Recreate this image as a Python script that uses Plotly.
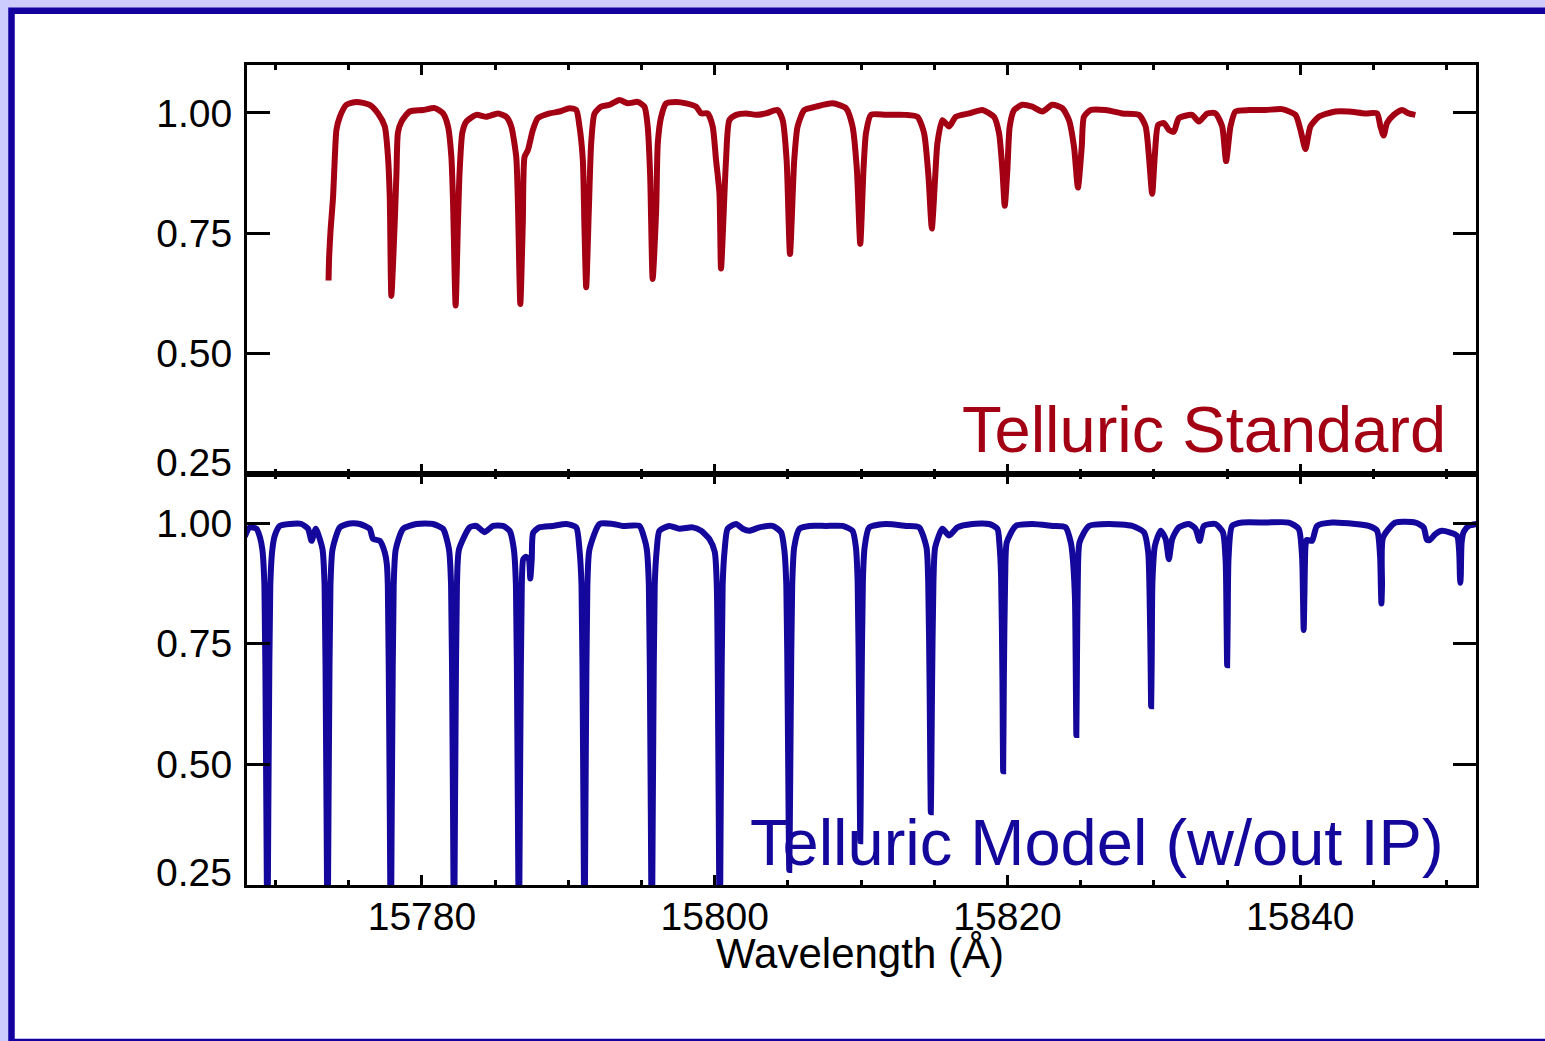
import plotly.graph_objects as go

# ---------------------------------------------------------------------------
# Spectra: wavelength (Angstrom) and normalised flux
# ---------------------------------------------------------------------------
std_wave = [
    15773.62, 15773.66, 15773.76, 15773.93, 15774.05, 15774.16, 15774.39, 15774.84, 15775.53, 15776.43, 15777.00, 15777.46, 15777.68, 15777.80, 15777.91,
    15778.14, 15778.26, 15778.36, 15778.60, 15779.16, 15780.07, 15780.87, 15781.44, 15781.78, 15782.01, 15782.12, 15782.30,
    15782.46, 15782.57, 15782.76, 15783.03, 15783.71, 15784.40, 15785.19, 15785.76, 15786.10, 15786.44, 15786.55, 15786.72,
    15786.89, 15787.01, 15787.24, 15787.58, 15787.92, 15788.72, 15789.40, 15790.08, 15790.54, 15790.76, 15790.99, 15791.10, 15791.22,
    15791.40, 15791.56, 15791.79, 15792.24, 15792.81, 15793.49, 15794.06, 15794.74, 15795.20, 15795.42, 15795.59, 15795.76,
    15796.00, 15796.11, 15796.34, 15796.68, 15797.36, 15798.04, 15798.73, 15799.07, 15799.52, 15799.86, 15800.09, 15800.32, 15800.43,
    15800.77, 15801.00, 15801.46, 15802.14, 15802.82, 15803.50, 15804.29, 15804.64, 15804.91, 15805.14,
    15805.43, 15805.66, 15806.12, 15806.91, 15808.05, 15808.96, 15809.41, 15809.71, 15809.94,
    15810.16, 15810.33, 15810.67, 15811.69, 15813.06, 15813.85, 15814.30, 15814.60, 15814.83,
    15815.06, 15815.21, 15815.55, 15816.01, 15816.47, 15817.38, 15818.28, 15819.08, 15819.42, 15819.65, 15819.81,
    15819.99, 15820.15, 15820.45, 15821.01, 15821.69, 15822.38, 15823.06, 15823.74, 15824.20, 15824.54, 15824.81,
    15825.07, 15825.22, 15825.68, 15826.70, 15827.84, 15828.98, 15829.43, 15829.66, 15829.88,
    15830.07, 15830.29, 15830.68, 15831.02, 15831.36, 15831.70, 15832.61, 15833.07, 15833.64, 15834.21, 15834.66, 15834.93,
    15835.23, 15835.57, 15836.48, 15837.62, 15838.75, 15839.67, 15840.01, 15840.35,
    15840.69, 15841.26, 15842.40, 15843.30, 15844.44, 15845.24, 15845.47, 15845.69,
    15845.92, 15846.38, 15846.94, 15847.40, 15847.86,
]
std_flux = [
    0.652, 0.701, 0.757, 0.826, 0.909, 0.965, 0.992, 1.017, 1.023, 1.017, 0.999, 0.972, 0.909, 0.826, 0.620,
    0.772, 0.876, 0.959, 0.982, 1.003, 1.006, 1.010, 0.999, 0.972, 0.909, 0.820, 0.600,
    0.772, 0.876, 0.959, 0.982, 0.996, 0.992, 0.999, 0.992, 0.972, 0.909, 0.820, 0.603,
    0.772, 0.909, 0.923, 0.965, 0.989, 0.999, 1.003, 1.010, 1.006, 0.972, 0.902, 0.764, 0.638,
    0.799, 0.937, 0.999, 1.013, 1.017, 1.027, 1.020, 1.023, 1.013, 0.972, 0.868, 0.655,
    0.799, 0.937, 0.992, 1.020, 1.023, 1.020, 1.013, 0.999, 0.999, 0.972, 0.902, 0.834, 0.677,
    0.902, 0.985, 0.996, 0.999, 0.996, 0.999, 1.006, 0.985, 0.902, 0.707,
    0.902, 0.972, 1.006, 1.013, 1.020, 1.010, 0.972, 0.882, 0.728,
    0.882, 0.958, 0.996, 0.996, 0.996, 0.992, 0.958, 0.868, 0.760,
    0.868, 0.937, 0.985, 0.972, 0.992, 0.999, 1.006, 0.992, 0.958, 0.882, 0.807,
    0.882, 0.972, 1.006, 1.017, 1.013, 1.003, 1.017, 1.010, 0.985, 0.930, 0.845,
    0.930, 0.992, 1.006, 1.006, 0.999, 0.996, 0.972, 0.909, 0.832,
    0.916, 0.975, 0.979, 0.965, 0.961, 0.989, 0.996, 0.982, 0.999, 0.999, 0.972, 0.900,
    0.972, 1.003, 1.006, 1.006, 1.008, 0.996, 0.965, 0.925,
    0.972, 0.992, 1.003, 1.003, 0.999, 0.999, 0.972, 0.953,
    0.979, 0.996, 1.006, 0.999, 0.996,
]

model_wave = [
    15767.90, 15768.24, 15768.70, 15768.93, 15769.10, 15769.24, 15769.34, 15769.405, 15769.44, 15769.475, 15769.54, 15769.64, 15769.78,
    15769.95, 15770.29, 15770.97, 15771.77, 15772.22, 15772.46, 15772.75, 15773.02, 15773.21, 15773.35, 15773.45, 15773.515, 15773.55, 15773.585, 15773.65, 15773.75, 15773.89,
    15774.39, 15775.07, 15775.75, 15776.43, 15776.66, 15777.12, 15777.46, 15777.60, 15777.67, 15777.77, 15777.835, 15777.87, 15777.905, 15777.97, 15778.07, 15778.21,
    15778.71, 15779.62, 15780.75, 15781.44, 15781.85, 15781.99, 15782.09, 15782.155, 15782.19, 15782.225, 15782.29, 15782.39, 15782.53,
    15783.26, 15783.71, 15784.28, 15784.85, 15785.53, 15785.99, 15786.28, 15786.42, 15786.52, 15786.585, 15786.62, 15786.655, 15786.72, 15786.82, 15786.92, 15787.10, 15787.30, 15787.40, 15787.50, 15787.60,
    15788.03, 15788.94, 15789.86, 15790.54, 15790.76, 15790.90, 15791.00, 15791.065, 15791.10, 15791.135, 15791.20, 15791.30, 15791.44,
    15792.13, 15793.03, 15793.72, 15794.86, 15795.20, 15795.36, 15795.50, 15795.60, 15795.665, 15795.70, 15795.735, 15795.80, 15795.90, 15796.04,
    15796.22, 15796.90, 15797.59, 15798.49, 15799.07, 15799.63, 15800.00, 15800.14, 15800.24, 15800.305, 15800.34, 15800.375, 15800.44, 15800.54, 15800.68,
    15800.88, 15801.46, 15801.91, 15802.36, 15803.05, 15803.95, 15804.53, 15804.75, 15804.89, 15804.99, 15805.05, 15805.09, 15805.13, 15805.19, 15805.29, 15805.43,
    15805.78, 15806.46, 15807.60, 15808.73, 15809.41, 15809.64, 15809.76, 15809.86, 15809.91, 15809.94, 15809.97, 15810.02, 15810.12, 15810.24,
    15810.55, 15811.69, 15813.06, 15813.96, 15814.46, 15814.58, 15814.68, 15814.73, 15814.76, 15814.79, 15814.84, 15814.94, 15815.06,
    15815.55, 15816.01, 15816.58, 15817.60, 15818.74, 15819.31, 15819.45, 15819.56, 15819.65, 15819.70, 15819.75, 15819.84, 15819.95,
    15820.56, 15821.69, 15823.06, 15823.97, 15824.32, 15824.42, 15824.60, 15824.66, 15824.70, 15824.74, 15824.80, 15824.92,
    15825.56, 15826.93, 15828.52, 15829.32, 15829.61, 15829.72, 15829.77, 15829.81, 15829.85, 15829.90, 15830.07, 15830.46, 15830.80, 15831.02, 15831.25, 15831.70, 15832.39, 15832.84, 15833.12, 15833.41, 15834.21, 15834.71,
    15834.90, 15834.96, 15835.00, 15835.04, 15835.10, 15835.34, 15836.03, 15837.62, 15839.21, 15839.89, 15840.12, 15840.18, 15840.23, 15840.28, 15840.36, 15840.45, 15840.80, 15841.14,
    15842.17, 15843.76, 15844.67, 15845.24, 15845.45, 15845.50, 15845.54, 15845.58, 15845.65, 15846.49, 15847.86, 15848.42, 15848.65, 15848.85, 15849.22, 15849.67, 15850.69, 15850.85, 15850.90, 15850.93, 15850.96, 15851.02, 15851.15, 15851.49, 15852.06,
]
model_flux = [
    0.972, 0.991, 0.988, 0.971, 0.945, 0.870, 0.550, 0.250, 0.080, 0.250, 0.550, 0.870, 0.945,
    0.974, 0.994, 0.998, 0.998, 0.988, 0.963, 0.988, 0.967, 0.945, 0.870, 0.550, 0.250, 0.080, 0.250, 0.550, 0.870, 0.945,
    0.991, 0.999, 0.998, 0.988, 0.967, 0.963, 0.939, 0.915, 0.870, 0.550, 0.250, 0.080, 0.250, 0.550, 0.870, 0.945,
    0.988, 0.998, 0.998, 0.988, 0.945, 0.870, 0.550, 0.250, 0.080, 0.250, 0.550, 0.870, 0.945,
    0.991, 0.994, 0.981, 0.994, 0.994, 0.984, 0.945, 0.870, 0.550, 0.250, 0.080, 0.250, 0.550, 0.870, 0.925, 0.930, 0.925, 0.885, 0.925, 0.980,
    0.991, 0.994, 0.998, 0.991, 0.945, 0.870, 0.550, 0.250, 0.080, 0.250, 0.550, 0.870, 0.945,
    0.998, 0.998, 0.994, 0.994, 0.967, 0.945, 0.870, 0.550, 0.250, 0.080, 0.250, 0.550, 0.870, 0.945,
    0.984, 0.994, 0.988, 0.991, 0.984, 0.967, 0.940, 0.870, 0.550, 0.250, 0.080, 0.250, 0.550, 0.870, 0.945,
    0.988, 0.998, 0.988, 0.984, 0.991, 0.994, 0.981, 0.945, 0.870, 0.600, 0.380, 0.280, 0.380, 0.600, 0.870, 0.950,
    0.988, 0.994, 0.994, 0.994, 0.984, 0.950, 0.880, 0.620, 0.420, 0.340, 0.420, 0.620, 0.880, 0.950,
    0.991, 0.998, 0.994, 0.991, 0.950, 0.880, 0.650, 0.470, 0.400, 0.470, 0.650, 0.880, 0.950,
    0.988, 0.974, 0.991, 0.998, 0.998, 0.988, 0.955, 0.890, 0.680, 0.485, 0.680, 0.890, 0.960,
    0.994, 0.998, 0.994, 0.991, 0.960, 0.939, 0.850, 0.700, 0.560, 0.700, 0.880, 0.960,
    0.994, 0.998, 0.994, 0.981, 0.939, 0.820, 0.720, 0.620, 0.720, 0.880, 0.953, 0.984, 0.967, 0.925, 0.967, 0.991, 0.998, 0.988, 0.963, 0.994, 0.998, 0.981,
    0.920, 0.800, 0.705, 0.800, 0.930, 0.994, 1.001, 1.001, 1.001, 0.988, 0.930, 0.850, 0.778, 0.850, 0.955, 0.965, 0.963, 0.994,
    1.001, 0.998, 0.994, 0.984, 0.930, 0.870, 0.833, 0.870, 0.970, 1.001, 1.001, 0.991, 0.965, 0.965, 0.977, 0.984, 0.974, 0.940, 0.890, 0.876, 0.890, 0.960, 0.981, 0.994, 0.998,
]

# Axis ticks and panel labels
x_range = [15768.05, 15852.0]
x_major_step = 20
x_minor_step = 5
y_tick_vals = [0.50, 0.75, 1.00]
y_tick_text = ["0.50", "0.75", "1.00"]
y_edge_label = "0.25"
top_label = "Telluric Standard"
bottom_label = "Telluric Model (w/out IP)"
x_title = "Wavelength (Å)"

# ---------------------------------------------------------------------------
# Styling
# ---------------------------------------------------------------------------
RED = "#a40014"
BLUE = "#13079c"
FRAME = "#14009e"
LAVENDER = "#ccccff"
BLACK = "#000000"
FONT = "Liberation Sans, Arial, Helvetica, sans-serif"
TICK_SIZE = 39

W, H = 1545, 1041
ML, MR, MT, MB = 247, 69, 65, 156
PW = W - ML - MR
PH = H - MT - MB
split = 411 / PH


def px_x(px):
    """Convert a page x position to paper coordinates."""
    return (px - ML) / PW


def px_y(py):
    """Convert a page y position to paper coordinates."""
    return (H - MB - py) / PH


fig = go.Figure()
fig.add_trace(go.Scatter(
    x=std_wave, y=std_flux, mode="lines",
    line=dict(color=RED, width=6, shape="spline", smoothing=0.6),
    xaxis="x", yaxis="y", showlegend=False, hoverinfo="skip",
))
fig.add_trace(go.Scatter(
    x=model_wave, y=model_flux, mode="lines",
    line=dict(color=BLUE, width=6, shape="spline", smoothing=0.6),
    xaxis="x2", yaxis="y2", showlegend=False, hoverinfo="skip",
))

frame_axis = dict(
    showline=True, linecolor=BLACK, linewidth=3, mirror="allticks",
    ticks="inside", tickcolor=BLACK, tickwidth=3,
    showgrid=False, zeroline=False, fixedrange=True,
    tickfont=dict(family=FONT, size=TICK_SIZE, color=BLACK),
)
x_axis = dict(
    frame_axis, range=x_range, tickmode="linear", tick0=15780, dtick=x_major_step,
    tickformat="d", ticklen=10,
    minor=dict(ticks="inside", tick0=15770, dtick=x_minor_step, ticklen=5,
               tickwidth=3, tickcolor=BLACK, showgrid=False),
)
y_axis = dict(
    frame_axis, tickmode="array", tickvals=y_tick_vals, ticktext=y_tick_text,
    ticklen=23, ticklabelstandoff=4,
)

fig.update_layout(
    width=W, height=H,
    margin=dict(l=ML, r=MR, t=MT, b=MB, pad=0),
    paper_bgcolor=LAVENDER,
    plot_bgcolor="rgba(0,0,0,0)",
    font=dict(family=FONT, color=BLACK),
    xaxis=dict(x_axis, anchor="y", showticklabels=False),
    yaxis=dict(y_axis, anchor="x", domain=[split, 1], range=[0.25, 1.0996]),
    xaxis2=dict(x_axis, anchor="y2", showticklabels=True, ticklabelstandoff=-5),
    yaxis2=dict(y_axis, anchor="x2", domain=[0, split], range=[0.249, 1.1017]),
    showlegend=False,
)

# White page inside a dark blue frame
fig.add_shape(
    type="rect", xref="paper", yref="paper",
    x0=px_x(11.5), x1=px_x(1565), y0=px_y(1042), y1=px_y(10.8),
    fillcolor="white", line=dict(color=FRAME, width=6.5), layer="below",
)

annotations = [
    dict(text=top_label, x=px_x(1447), y=px_y(430), xanchor="right", yanchor="middle",
         font=dict(family=FONT, size=65, color=RED)),
    dict(text=bottom_label, x=px_x(1445), y=px_y(842), xanchor="right", yanchor="middle",
         font=dict(family=FONT, size=65, color=BLUE)),
    dict(text=x_title, x=px_x(860), y=px_y(953), xanchor="center", yanchor="middle",
         font=dict(family=FONT, size=42, color=BLACK)),
    dict(text=y_edge_label, x=px_x(233), y=px_y(462), xanchor="right", yanchor="middle",
         font=dict(family=FONT, size=TICK_SIZE, color=BLACK)),
    dict(text=y_edge_label, x=px_x(233), y=px_y(872), xanchor="right", yanchor="middle",
         font=dict(family=FONT, size=TICK_SIZE, color=BLACK)),
]
for a in annotations:
    fig.add_annotation(dict(a, xref="paper", yref="paper", showarrow=False, borderpad=0))

fig.write_html("out.html", config=dict(displayModeBar=False))
